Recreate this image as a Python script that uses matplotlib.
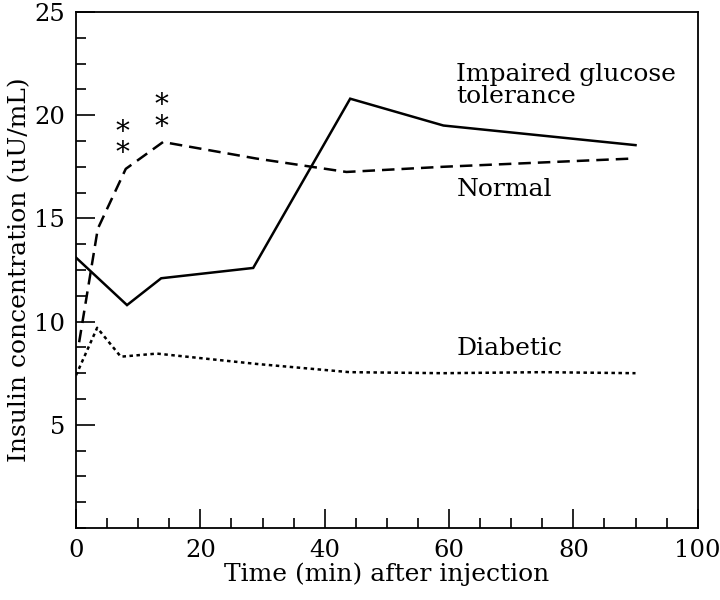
import numpy as np
from matplotlib import pyplot as plt
from matplotlib.ticker import MultipleLocator

# values
t_impaired = [0, 8.2, 13.7, 28.5, 44.1, 59.1, 90]
y_impaired = [13.1, 10.8, 12.1, 12.6, 20.8, 19.5, 18.55]

t_normal = [0.5, 3.5, 8, 14, 29, 43.5, 59, 89.5]
y_normal = [9.0, 14.5, 17.4, 18.7, 17.9, 17.25, 17.5, 17.9]

t_diabetic = [0, 3.4, 7.2, 13, 29, 44, 59, 75, 90]
y_diabetic = [7.4, 9.7, 8.3, 8.45, 7.95, 7.55, 7.5, 7.55, 7.5]

# significance markers (two stacked asterisks)
star_x = [7.4, 13.8]
star_y = [18.65, 19.95]

plt.rcParams['font.family'] = ['DejaVu Serif']

fig = plt.figure(figsize=(7.2, 6), dpi=100)
ax = fig.add_axes([0.1056, 0.12, 0.8634, 0.86])

ax.plot(t_impaired, y_impaired, color='black', lw=1.8, solid_joinstyle='miter')
ax.plot(t_normal, y_normal, color='black', lw=1.8, linestyle=(0, (5, 2.8)))
ax.plot(t_diabetic, y_diabetic, color='black', lw=1.8, linestyle=(0, (1.4, 1.4)))

for sx, sy in zip(star_x, star_y):
    ax.text(sx, sy, '*\n*', ha='center', va='center', fontsize=20,
            linespacing=0.75)

ax.text(61.2, 22.55, 'Impaired glucose\ntolerance', fontsize=18,
        ha='left', va='top', linespacing=0.95)
ax.text(61.2, 16.4, 'Normal', fontsize=18, ha='left', va='center')
ax.text(61.2, 8.7, 'Diabetic', fontsize=18, ha='left', va='center')

ax.set_xlim(0, 100)
ax.set_ylim(0, 25)
ax.xaxis.set_major_locator(MultipleLocator(20))
ax.xaxis.set_minor_locator(MultipleLocator(5))
ax.yaxis.set_minor_locator(MultipleLocator(1.25))
ax.set_yticks([5, 10, 15, 20, 25])

ax.tick_params(which='both', direction='in', top=False, right=False,
               width=1.2, labelsize=17.5, colors='black')
ax.tick_params(which='major', length=14)
ax.tick_params(which='minor', length=7)
ax.tick_params(axis='y', pad=8)
ax.tick_params(axis='x', pad=8)
for s in ax.spines.values():
    s.set_linewidth(1.3)

ax.set_xlabel('Time (min) after injection', fontsize=18, labelpad=0)
ax.set_ylabel('Insulin concentration (uU/mL)', fontsize=18, labelpad=2)

fig.savefig('out.png', dpi=100)
